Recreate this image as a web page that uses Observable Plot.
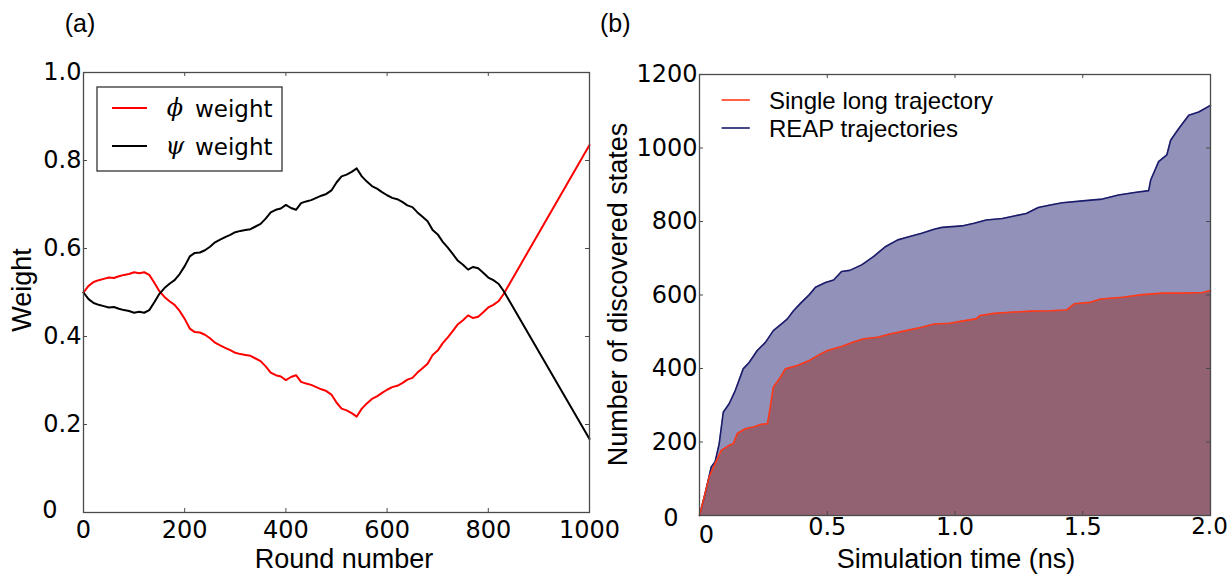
<!DOCTYPE html>
<html><head><meta charset="utf-8">
<script src="https://cdn.jsdelivr.net/npm/d3@7"></script>
<script src="https://cdn.jsdelivr.net/npm/@observablehq/plot@0.6"></script>
<style>
body{margin:0;background:#fff;}
#wrap{position:relative;width:1228px;height:575px;overflow:hidden;background:#fff;}
.panel{position:absolute;top:0;}
.panel svg{overflow:visible;max-width:none;}
</style></head><body><div id="wrap"><div id="pa" class="panel" style="left:0;width:590px;height:575px"></div><div id="pb" class="panel" style="left:590px;width:638px;height:575px"></div></div>
<script>
// ---------- Panel (a) data ----------
const rounds = [0,10,20,30,40,50,60,70,80,90,100,110,120,130,140,150,160,170,180,190,200,210,220,230,240,250,260,270,280,290,300,310,320,330,340,350,360,370,380,390,400,410,420,430,440,450,460,470,480,490,500,510,520,530,540,550,560,570,580,590,600,610,620,630,640,650,660,670,680,690,700,710,720,730,740,750,760,770,780,790,800,810,820,830,1000];
const phiWeight = [0.500,0.515,0.524,0.528,0.531,0.534,0.533,0.537,0.540,0.542,0.546,0.544,0.546,0.540,0.522,0.503,0.490,0.480,0.472,0.458,0.440,0.418,0.410,0.409,0.404,0.396,0.386,0.380,0.374,0.369,0.363,0.360,0.358,0.356,0.350,0.344,0.332,0.318,0.312,0.309,0.301,0.308,0.312,0.297,0.293,0.290,0.285,0.280,0.276,0.268,0.250,0.236,0.232,0.226,0.218,0.236,0.248,0.258,0.264,0.272,0.279,0.285,0.288,0.294,0.302,0.306,0.318,0.328,0.338,0.358,0.368,0.385,0.398,0.413,0.428,0.437,0.448,0.442,0.445,0.455,0.466,0.472,0.480,0.496,0.835];
const psiWeight = [0.500,0.485,0.476,0.472,0.469,0.466,0.467,0.463,0.460,0.458,0.454,0.456,0.454,0.460,0.478,0.497,0.510,0.520,0.528,0.542,0.560,0.582,0.590,0.591,0.596,0.604,0.614,0.620,0.626,0.631,0.637,0.640,0.642,0.644,0.650,0.656,0.668,0.682,0.688,0.691,0.699,0.692,0.688,0.703,0.707,0.710,0.715,0.720,0.724,0.732,0.750,0.764,0.768,0.774,0.782,0.764,0.752,0.742,0.736,0.728,0.721,0.715,0.712,0.706,0.698,0.694,0.682,0.672,0.662,0.642,0.632,0.615,0.602,0.587,0.572,0.563,0.552,0.558,0.555,0.545,0.534,0.528,0.520,0.504,0.167];
const roundTicks = [0,200,400,600,800,1000];
const roundTickLabels = ["0","200","400","600","800","1000"];
const weightTicks = [0,0.2,0.4,0.6,0.8,1.0];
const weightTickLabels = ["0","0.2","0.4","0.6","0.8","1.0"];
const seriesSymbolsA = ["\u03D5","\u03C8"];
const seriesWordsA = ["weight","weight"];

// ---------- Panel (b) data ----------
const reapTime = [0,0.022,0.046,0.061,0.077,0.093,0.116,0.140,0.171,0.195,0.226,0.258,0.289,0.320,0.344,0.368,0.399,0.430,0.454,0.493,0.525,0.556,0.588,0.635,0.682,0.729,0.776,0.823,0.870,0.918,0.949,1.027,1.075,1.122,1.185,1.232,1.279,1.326,1.373,1.420,1.499,1.577,1.640,1.703,1.758,1.766,1.797,1.829,1.844,1.876,1.915,1.954,2.0];
const reapStates = [0,60,132,146,195,281,304,340,399,417,449,471,503,521,535,557,580,601,621,634,641,664,667,682,705,732,750,759,768,779,784,788,795,804,808,815,822,838,845,851,856,861,872,879,884,913,963,981,1021,1053,1089,1098,1116];
const singleTime = [0,0.038,0.061,0.085,0.116,0.132,0.148,0.179,0.211,0.242,0.266,0.273,0.289,0.313,0.336,0.383,0.430,0.462,0.501,0.556,0.603,0.643,0.698,0.745,0.808,0.870,0.918,0.980,1.027,1.082,1.098,1.153,1.216,1.295,1.373,1.436,1.467,1.530,1.570,1.656,1.734,1.813,1.892,1.970,2.0];
const singleStates = [0,105,141,177,191,195,223,236,241,248,250,277,349,372,399,408,422,435,449,460,472,481,485,494,503,512,521,523,529,535,544,550,553,556,557,559,576,580,589,594,601,605,605,607,612];
const timeTicks = [0,0.5,1.0,1.5,2.0];
const timeTickLabels = ["0","0.5","1.0","1.5","2.0"];
const stateTicks = [0,200,400,600,800,1000,1200];
const stateTickLabels = ["0","200","400","600","800","1000","1200"];
const seriesB = ["Single long trajectory","REAP trajectories"];

// ---------- styles ----------
const FONT_TICK = '"DejaVu Sans", sans-serif';
const FONT_TEXT = '"Liberation Sans", Arial, Helvetica, sans-serif';
const AX = "#4a4a4a";
const RED_A = "#ff0000", BLACK_A = "#000000";
const FILL_REAP = "#9191b9", FILL_SINGLE = "#926273";
const LINE_REAP = "#1b1b6b", LINE_SINGLE = "#ff3a1a";

const fmt = (ticks, labels) => d => labels[ticks.indexOf(d)];

function frameTicks(xt, yt, iw, ih) {
  return [
    Plot.tickX(xt, {x: d => d, insetTop: ih - 4, stroke: AX, strokeWidth: 1}),
    Plot.tickX(xt, {x: d => d, insetBottom: ih - 4, stroke: AX, strokeWidth: 1}),
    Plot.tickY(yt, {y: d => d, insetRight: iw - 4, stroke: AX, strokeWidth: 1}),
    Plot.tickY(yt, {y: d => d, insetLeft: iw - 4, stroke: AX, strokeWidth: 1})
  ];
}

// ---------- Panel (a) ----------
const WA = 590, HA = 575;
const mA = {top: 72, right: 1, bottom: 63, left: 83};
const iwA = WA - mA.left - mA.right, ihA = HA - mA.top - mA.bottom;
const dataA = rounds.map((r, i) => ({r, phi: phiWeight[i], psi: psiWeight[i]}));

const plotA = Plot.plot({
  width: WA, height: HA,
  marginTop: mA.top, marginRight: mA.right, marginBottom: mA.bottom, marginLeft: mA.left,
  style: {background: "transparent", overflow: "visible", fontFamily: FONT_TICK, fontSize: "24px", color: "#000"},
  x: {domain: [0, 1000]},
  y: {domain: [0, 1]},
  marks: [
    Plot.line(dataA, {x: "r", y: "phi", stroke: RED_A, strokeWidth: 2}),
    Plot.line(dataA, {x: "r", y: "psi", stroke: BLACK_A, strokeWidth: 2}),
    ...frameTicks(roundTicks, weightTicks, iwA, ihA),
    Plot.frame({stroke: AX, strokeWidth: 1.3}),
    Plot.axisX({ticks: roundTicks, tickSize: 0, tickPadding: 8, tickFormat: fmt(roundTicks, roundTickLabels), label: null, fontSize: 24, fill: "#000"}),
    Plot.axisY({ticks: weightTicks.slice(1), tickSize: 0, tickPadding: 2, tickFormat: fmt(weightTicks, weightTickLabels), label: null, fontSize: 24, fill: "#000"}),
    Plot.axisY({ticks: weightTicks.slice(0, 1), tickSize: 0, tickPadding: 2, tickFormat: fmt(weightTicks, weightTickLabels), label: null, fontSize: 24, fill: "#000", dx: -24, dy: -2})
  ]
});
document.getElementById("pa").appendChild(plotA);

// ---------- Panel (b) ----------
const WB = 638, HB = 575;
const mB = {top: 74, right: 18, bottom: 60, left: 109};
const iwB = WB - mB.left - mB.right, ihB = HB - mB.top - mB.bottom;
const reapData = reapTime.map((t, i) => ({t, v: reapStates[i]}));
const singleData = singleTime.map((t, i) => ({t, v: singleStates[i]}));

const plotB = Plot.plot({
  width: WB, height: HB,
  marginTop: mB.top, marginRight: mB.right, marginBottom: mB.bottom, marginLeft: mB.left,
  style: {background: "transparent", overflow: "visible", fontFamily: FONT_TICK, fontSize: "24px", color: "#000"},
  x: {domain: [0, 2]},
  y: {domain: [0, 1200]},
  marks: [
    Plot.areaY(reapData, {x: "t", y: "v", fill: FILL_REAP}),
    Plot.areaY(singleData, {x: "t", y: "v", fill: FILL_SINGLE}),
    Plot.line(reapData, {x: "t", y: "v", stroke: LINE_REAP, strokeWidth: 1.6}),
    Plot.line(singleData, {x: "t", y: "v", stroke: LINE_SINGLE, strokeWidth: 1.6}),
    ...frameTicks(timeTicks, stateTicks, iwB, ihB),
    Plot.frame({stroke: AX, strokeWidth: 1.3}),
    Plot.axisX({ticks: timeTicks.slice(1, -1), tickSize: 0, tickPadding: 2, tickFormat: fmt(timeTicks, timeTickLabels), label: null, fontSize: 24, fill: "#000"}),
    Plot.axisX({ticks: timeTicks.slice(-1), tickSize: 0, tickPadding: 2, tickFormat: fmt(timeTicks, timeTickLabels), label: null, fontSize: 23, fill: "#000", dx: -1}),
    Plot.axisX({ticks: timeTicks.slice(0, 1), tickSize: 0, tickPadding: 2, tickFormat: fmt(timeTicks, timeTickLabels), label: null, fontSize: 24, fill: "#000", dx: 7, dy: 8}),
    Plot.axisY({ticks: stateTicks.slice(1), tickSize: 0, tickPadding: 2, tickFormat: fmt(stateTicks, stateTickLabels), label: null, fontSize: 24, fill: "#000"}),
    Plot.axisY({ticks: stateTicks.slice(0, 1), tickSize: 0, tickPadding: 2, tickFormat: fmt(stateTicks, stateTickLabels), label: null, fontSize: 24, fill: "#000", dx: -19, dy: 3})
  ]
});
document.getElementById("pb").appendChild(plotB);

// ---------- annotations (titles, panel letters, legends) ----------
function addText(svg, x, y, str, opts = {}) {
  const t = d3.select(svg).append("text")
    .attr("x", x).attr("y", y)
    .attr("font-family", opts.family || FONT_TEXT)
    .attr("font-size", opts.size || 27)
    .attr("text-anchor", opts.anchor || "middle")
    .attr("fill", "#000")
    .text(str);
  if (opts.style) t.attr("font-style", opts.style);
  if (opts.rotate) t.attr("transform", `rotate(-90 ${x} ${y})`);
  return t;
}

// Panel (a)
addText(plotA, 80, 32, "(a)", {size: 25});
addText(plotA, 31, 290, "Weight", {rotate: true});
addText(plotA, 344, 568, "Round number");
{
  const g = d3.select(plotA).append("g");
  g.append("rect").attr("x", 97).attr("y", 87).attr("width", 185).attr("height", 84)
    .attr("fill", "#fff").attr("stroke", "#333").attr("stroke-width", 1.3);
  const cols = [RED_A, BLACK_A];
  seriesSymbolsA.forEach((sym, i) => {
    const y = 108 + i * 38;
    g.append("line").attr("x1", 112).attr("x2", 147).attr("y1", y).attr("y2", y)
      .attr("stroke", cols[i]).attr("stroke-width", 2);
  });
  seriesSymbolsA.forEach((sym, i) => {
    const y = 108 + i * 38;
    addText(plotA, 175, y + 8, sym, {size: 24, anchor: "middle", family: '"DejaVu Serif", "Liberation Serif", serif', style: "italic"});
    addText(plotA, 195, y + 9, seriesWordsA[i], {size: 23, anchor: "start", family: FONT_TICK});
  });
}

// Panel (b)
addText(plotB, 10, 32, "(b)", {size: 25, anchor: "start"});
addText(plotB, 37, 294.5, "Number of discovered states", {rotate: true});
addText(plotB, 366, 568, "Simulation time (ns)");
{
  const g = d3.select(plotB).append("g");
  const cols = [LINE_SINGLE, LINE_REAP];
  seriesB.forEach((name, i) => {
    const y = 100 + i * 28;
    g.append("line").attr("x1", 131.6).attr("x2", 159.8).attr("y1", y).attr("y2", y)
      .attr("stroke", cols[i]).attr("stroke-width", 1.6);
    addText(plotB, 179, y + 9, name, {size: 24, anchor: "start"});
  });
}
</script>
</body></html>
